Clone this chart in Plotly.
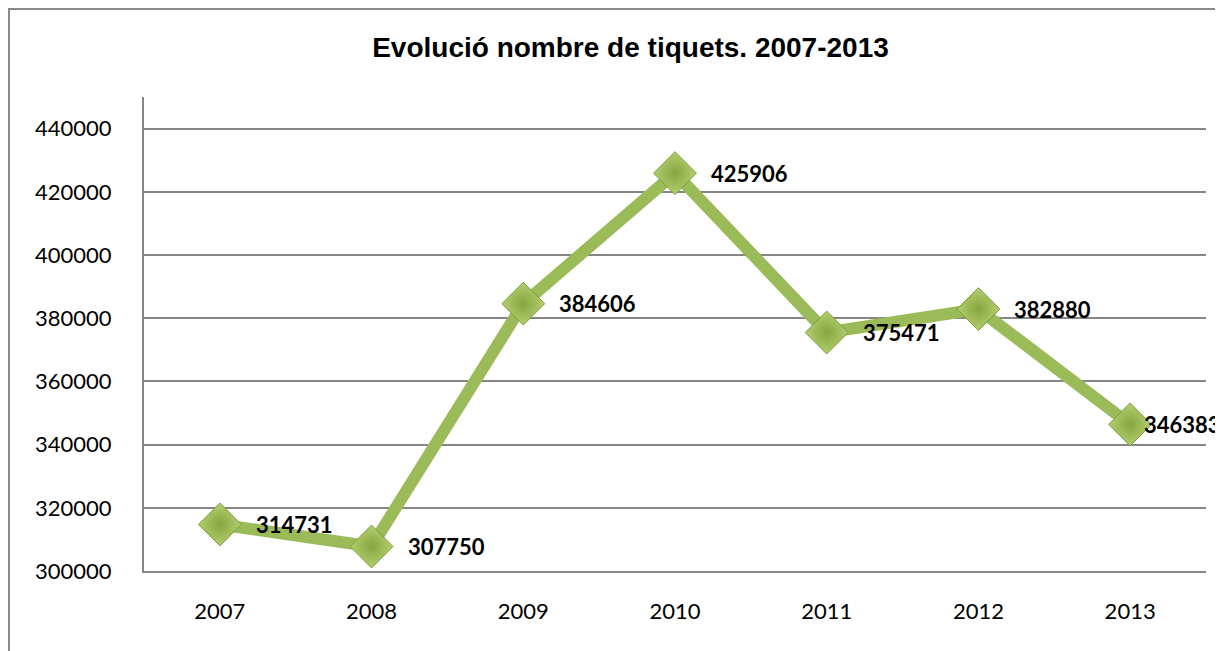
import plotly.graph_objects as go

years = ['2007', '2008', '2009', '2010', '2011', '2012', '2013']
tiquets = [314731, 307750, 384606, 425906, 375471, 382880, 346383]
y_ticks = [300000, 320000, 340000, 360000, 380000, 400000, 420000, 440000]

fig = go.Figure()
fig.add_trace(go.Scatter(
    x=years, y=tiquets,
    mode='lines+markers',
    line=dict(color='#9BBB59', width=12),
    marker=dict(symbol='diamond', size=33, color='#b2cf6e',
                gradient=dict(type='radial', color='#86a63f'),
                line=dict(color='#7f9c3d', width=1)),
    cliponaxis=False,
    hoverinfo='x+y',
))

# data labels to the right of each point (Excel pushes the last one left to fit)
# category axis: annotation x given as category index
for i, v in enumerate(tiquets):
    fig.add_annotation(x=i, y=v, text=str(v), showarrow=False,
                       xanchor='left', yanchor='middle',
                       xshift=12 if i == len(tiquets) - 1 else 34,
                       font=dict(family='Lato', size=22, color='black', weight='bold'))

fig.update_layout(
    width=1223, height=651,
    paper_bgcolor='white', plot_bgcolor='white',
    margin=dict(l=136, r=25, t=89, b=88),
    showlegend=False,
    title=dict(text='<b>Evolució nombre de tiquets. 2007-2013</b>',
               x=0.509, xanchor='center', y=0.94, yanchor='middle',
               font=dict(family='Liberation Sans, Arial', size=28, color='black')),
    xaxis=dict(type='category', range=[-0.5, 6.5], showgrid=False,
               showline=True, linecolor='#868686', linewidth=2,
               ticks='', tickfont=dict(family='Lato', size=22, color='black'),
               ticklabelstandoff=20),
    yaxis=dict(range=[300000, 450000], tickvals=y_ticks, tickformat='d',
               showgrid=True, gridcolor='#868686', gridwidth=2,
               showline=True, linecolor='#868686', linewidth=2,
               zeroline=False, ticks='',
               tickfont=dict(family='Lato', size=22, color='black'),
               ticklabelstandoff=26),
    shapes=[dict(type='rect', xref='paper', yref='paper',
                 x0=-0.1271, x1=1.03, y0=-0.2, y1=1.1857,
                 line=dict(color='#898989', width=2), layer='below')],
)

fig.write_html('out.html')
